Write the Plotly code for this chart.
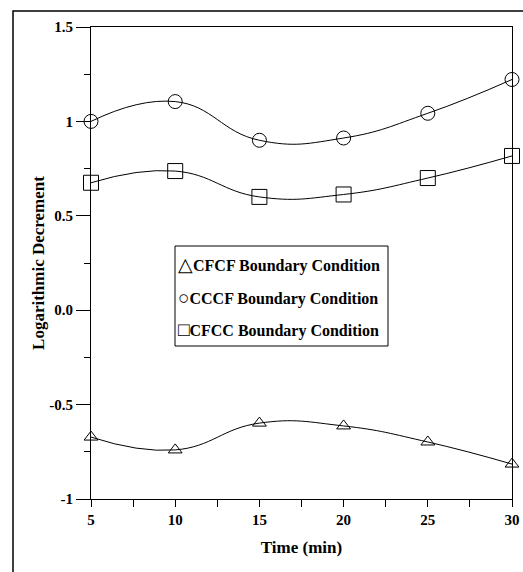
import plotly.graph_objects as go

time_min = [5, 10, 15, 20, 25, 30]
cfcf = [-0.672, -0.74, -0.598, -0.613, -0.698, -0.815]
cccf = [1.0, 1.105, 0.90, 0.912, 1.043, 1.222]
cfcc = [0.675, 0.737, 0.60, 0.613, 0.70, 0.817]

series_names = ["CFCF Boundary Condition", "CCCF Boundary Condition", "CFCC Boundary Condition"]
series_symbols = ["△", "○", "□"]

y_tickvals = [-1, -0.5, 0, 0.5, 1, 1.5]
y_ticktext = ["-1", "-0.5", "0.0", "0.5", "1", "1.5"]
x_tickvals = [5, 10, 15, 20, 25, 30]

FONT = "Liberation Serif"

fig = go.Figure()
marker_specs = [
    (cfcf, "triangle-up-open", 12),
    (cccf, "circle-open", 14),
    (cfcc, "square-open", 15),
]
for (vals, sym, size), name in zip(marker_specs, series_names):
    fig.add_trace(go.Scatter(
        x=time_min, y=vals, mode="lines+markers", name=name,
        line=dict(color="black", width=1, shape="spline", smoothing=1.3),
        marker=dict(symbol=sym, size=size, color="black", line=dict(width=1, color="black")),
        showlegend=False, cliponaxis=False,
    ))

W, H = 523, 572
ml, mr, mt, mb = 91, 11, 27, 73
pw, ph = W - ml - mr, H - mt - mb

def px(x):
    return (x - ml) / pw

def py(y):
    return 1 - (y - mt) / ph

shapes = [
    dict(type="rect", xref="paper", yref="paper", x0=px(13), x1=px(540), y0=py(590), y1=py(11),
         line=dict(color="black", width=1.5), layer="below"),
    dict(type="rect", xref="paper", yref="paper", x0=px(175), x1=px(388), y0=py(346), y1=py(246),
         line=dict(color="black", width=1), fillcolor="white"),
]

annotations = []
row_y = [264, 297, 329]
for sym, name, ry in zip(series_symbols, series_names, row_y):
    annotations.append(dict(
        xref="paper", yref="paper", x=px(176), y=py(ry), xanchor="left", yanchor="middle",
        text="<b><span style='font-size:19px;font-weight:normal'>" + sym + "</span>" + name + "</b>",
        showarrow=False,
        font=dict(family=FONT, size=16, color="black"),
    ))

fig.update_layout(
    width=W, height=H,
    margin=dict(l=ml, r=mr, t=mt, b=mb, autoexpand=False),
    paper_bgcolor="white", plot_bgcolor="white",
    shapes=shapes, annotations=annotations,
    font=dict(family=FONT, color="black"),
    xaxis=dict(
        range=[5, 30], tickvals=x_tickvals, ticks="outside", ticklen=7, tickwidth=1, tickcolor="black",
        showline=True, linecolor="black", linewidth=1, mirror=True, showgrid=False, zeroline=False,
        tickfont=dict(family=FONT, size=15, color="black", weight="bold"),
        title=dict(text="<b>Time (min)</b>", font=dict(family=FONT, size=17, color="black"), standoff=14),
        minor=dict(tickvals=[7.5, 12.5, 17.5, 22.5, 27.5], ticks="outside", ticklen=7, tickwidth=1, tickcolor="black"),
    ),
    yaxis=dict(
        range=[-1, 1.5], tickvals=y_tickvals, ticktext=y_ticktext, ticks="outside", ticklen=14, tickwidth=1,
        tickcolor="black", showline=True, linecolor="black", linewidth=1, mirror=True, showgrid=False,
        zeroline=False,
        tickfont=dict(family=FONT, size=15, color="black", weight="bold"),
        title=dict(text="<b>Logarithmic Decrement</b>", font=dict(family=FONT, size=17, color="black"), standoff=0),
        minor=dict(tickvals=[-0.75, -0.25, 0.25, 0.75, 1.25], ticks="outside", ticklen=6, tickwidth=1, tickcolor="black"),
    ),
)

fig.write_html("out.html", config={"displayModeBar": False})

with open("out.html", "r", encoding="utf-8") as f:
    html = f.read()
html = html.replace("<head>", "<head><style>html,body{margin:0;padding:0;overflow:hidden;}</style>", 1)
with open("out.html", "w", encoding="utf-8") as f:
    f.write(html)
